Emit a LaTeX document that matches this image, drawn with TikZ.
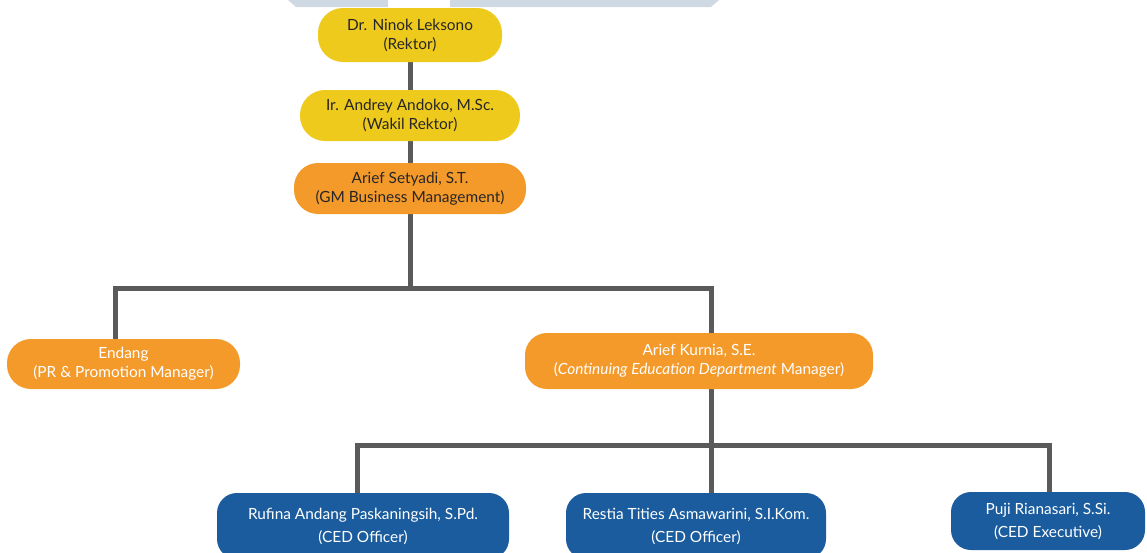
\documentclass[tikz,border=0pt]{standalone}
\usepackage{fontspec}
\setmainfont{Lato}
\usetikzlibrary{backgrounds}
\definecolor{yel}{HTML}{EECA1D}
\definecolor{ora}{HTML}{F49A2B}
\definecolor{blu}{HTML}{1A5C9D}
\definecolor{lin}{HTML}{5A5A5A}
\definecolor{wm}{HTML}{CFD9E4}
\definecolor{dtxt}{HTML}{262626}
\tikzset{
  box/.style={draw=none, align=center, font=\fontsize{15.4}{19}\selectfont, inner sep=0pt},
  yelbox/.style={box, fill=yel, text=dtxt, rounded corners=25pt},
  orabox/.style={box, fill=ora, rounded corners=24pt},
  blubox/.style={box, fill=blu, text=white, rounded corners=20pt, font=\fontsize{15.4}{23}\selectfont},
  conn/.style={draw=lin, line width=5pt},
}
\begin{document}
\begin{tikzpicture}[x=1pt,y=-1pt]
\clip (0,0) rectangle (1147,552);
% watermark bands at top
\fill[wm] (288,0) -- (388,0) -- (388,7) -- (296,7) -- cycle;
\fill[wm] (450,0) -- (719,0) -- (711,7) -- (450,7) -- cycle;
% nodes
\node[yelbox, minimum width=184pt, minimum height=54pt] (rek) at (410,35) {Dr. Ninok Leksono\\(Rektor)};
\node[yelbox, minimum width=220pt, minimum height=51pt] (wak) at (410,115.5) {Ir. Andrey Andoko, M.Sc.\\(Wakil Rektor)};
\node[orabox, text=dtxt, minimum width=232pt, minimum height=51pt] (gm) at (410,188.5) {Arief Setyadi, S.T.\\(GM Business Management)};
\node[orabox, text=white, minimum width=233pt, minimum height=50pt] (endang) at (123.5,364) {Endang\\(PR \& Promotion Manager)};
\node[orabox, text=white, minimum width=348pt, minimum height=56pt, rounded corners=22pt] (kurnia) at (699,361) {Arief Kurnia, S.E.\\(\textit{Continuing Education Department} Manager)};
\node[blubox, minimum width=292pt, minimum height=66pt] (rufina) at (363,526) {Rufina Andang Paskaningsih, S.Pd.\\(CED Officer)};
\node[blubox, minimum width=260pt, minimum height=66pt] (restia) at (696,526) {Restia Tities Asmawarini, S.I.Kom.\\(CED Officer)};
\node[blubox, minimum width=194pt, minimum height=58pt] (puji) at (1048,521) {Puji Rianasari, S.Si.\\(CED Executive)};
% junction coordinates
\coordinate (j1) at (410,288);
\coordinate (eTop) at (115,339);
\coordinate (kTop) at (711,333);
\coordinate (kBot) at (711,389);
\coordinate (j2) at (711,445);
\coordinate (rTop) at (357,493);
\coordinate (sTop) at (711,493);
\coordinate (pTop) at (1049,492);
\begin{scope}[on background layer]
\draw[conn] (rek.south) -- (wak.north);
\draw[conn] (wak.south) -- (gm.north);
\draw[conn] (gm.south) -- (j1);
\draw[conn] (eTop) |- (j1) -| (kTop);
\draw[conn] (kBot) -- (j2);
\draw[conn] (rTop) |- (j2) -| (pTop);
\draw[conn] (j2) -- (sTop);
\end{scope}
\end{tikzpicture}
\end{document}
